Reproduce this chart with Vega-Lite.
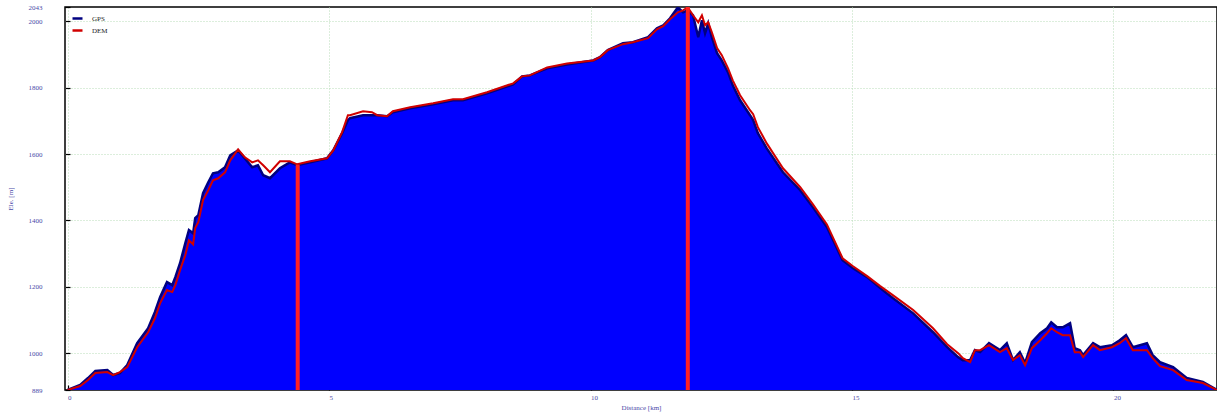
{
  "$schema": "https://vega.github.io/schema/vega-lite/v6.json",
  "width": 1152,
  "height": 383,
  "autosize": {"type": "none"},
  "padding": {"left": 65, "top": 7, "right": 0, "bottom": 29},
  "background": "white",
  "datasets": {
    "profile": [
      {"km": 0.0, "gps": 889, "dem": 889},
      {"km": 0.24, "gps": 904, "dem": 901},
      {"km": 0.39, "gps": 925, "dem": 919},
      {"km": 0.53, "gps": 946, "dem": 940},
      {"km": 0.76, "gps": 949, "dem": 943},
      {"km": 0.87, "gps": 934, "dem": 934},
      {"km": 1.0, "gps": 940, "dem": 943},
      {"km": 1.14, "gps": 964, "dem": 958},
      {"km": 1.33, "gps": 1030, "dem": 1018},
      {"km": 1.54, "gps": 1075, "dem": 1063},
      {"km": 1.67, "gps": 1124, "dem": 1105},
      {"km": 1.77, "gps": 1169, "dem": 1151},
      {"km": 1.9, "gps": 1214, "dem": 1190},
      {"km": 2.0, "gps": 1205, "dem": 1184},
      {"km": 2.06, "gps": 1229, "dem": 1205},
      {"km": 2.15, "gps": 1271, "dem": 1250},
      {"km": 2.25, "gps": 1331, "dem": 1295},
      {"km": 2.32, "gps": 1371, "dem": 1340},
      {"km": 2.4, "gps": 1361, "dem": 1328},
      {"km": 2.44, "gps": 1407, "dem": 1377},
      {"km": 2.5, "gps": 1416, "dem": 1395},
      {"km": 2.59, "gps": 1482, "dem": 1461},
      {"km": 2.69, "gps": 1515, "dem": 1491},
      {"km": 2.78, "gps": 1542, "dem": 1521},
      {"km": 2.88, "gps": 1545, "dem": 1527},
      {"km": 3.01, "gps": 1560, "dem": 1545},
      {"km": 3.11, "gps": 1596, "dem": 1581},
      {"km": 3.26, "gps": 1611, "dem": 1614},
      {"km": 3.39, "gps": 1587, "dem": 1590},
      {"km": 3.53, "gps": 1560, "dem": 1575},
      {"km": 3.64, "gps": 1566, "dem": 1581},
      {"km": 3.74, "gps": 1536, "dem": 1566},
      {"km": 3.87, "gps": 1527, "dem": 1545},
      {"km": 4.06, "gps": 1557, "dem": 1578},
      {"km": 4.25, "gps": 1575, "dem": 1578},
      {"km": 4.39, "gps": 1566, "dem": 1569},
      {"km": 4.64, "gps": 1575, "dem": 1578},
      {"km": 4.96, "gps": 1587, "dem": 1587},
      {"km": 5.08, "gps": 1611, "dem": 1611},
      {"km": 5.25, "gps": 1663, "dem": 1666},
      {"km": 5.36, "gps": 1702, "dem": 1717},
      {"km": 5.4, "gps": 1708, "dem": 1717},
      {"km": 5.65, "gps": 1717, "dem": 1729},
      {"km": 5.82, "gps": 1717, "dem": 1726},
      {"km": 5.92, "gps": 1717, "dem": 1717},
      {"km": 6.11, "gps": 1714, "dem": 1714},
      {"km": 6.22, "gps": 1726, "dem": 1729},
      {"km": 6.55, "gps": 1738, "dem": 1741},
      {"km": 6.99, "gps": 1750, "dem": 1753},
      {"km": 7.37, "gps": 1762, "dem": 1765},
      {"km": 7.56, "gps": 1762, "dem": 1765},
      {"km": 8.02, "gps": 1783, "dem": 1786},
      {"km": 8.52, "gps": 1810, "dem": 1813},
      {"km": 8.69, "gps": 1834, "dem": 1834},
      {"km": 8.84, "gps": 1837, "dem": 1837},
      {"km": 9.17, "gps": 1858, "dem": 1861},
      {"km": 9.55, "gps": 1870, "dem": 1873},
      {"km": 10.05, "gps": 1882, "dem": 1882},
      {"km": 10.18, "gps": 1892, "dem": 1892},
      {"km": 10.33, "gps": 1913, "dem": 1913},
      {"km": 10.62, "gps": 1934, "dem": 1931},
      {"km": 10.81, "gps": 1937, "dem": 1937},
      {"km": 11.1, "gps": 1952, "dem": 1949},
      {"km": 11.27, "gps": 1979, "dem": 1976},
      {"km": 11.39, "gps": 1988, "dem": 1985},
      {"km": 11.52, "gps": 2009, "dem": 2006},
      {"km": 11.67, "gps": 2042, "dem": 2027},
      {"km": 11.77, "gps": 2027, "dem": 2033},
      {"km": 11.86, "gps": 2033, "dem": 2042},
      {"km": 11.96, "gps": 2018, "dem": 2018},
      {"km": 12.06, "gps": 1952, "dem": 1997},
      {"km": 12.13, "gps": 2003, "dem": 2018},
      {"km": 12.19, "gps": 1964, "dem": 1988},
      {"km": 12.25, "gps": 1994, "dem": 1997},
      {"km": 12.32, "gps": 1952, "dem": 1967},
      {"km": 12.42, "gps": 1904, "dem": 1919},
      {"km": 12.51, "gps": 1882, "dem": 1898},
      {"km": 12.63, "gps": 1846, "dem": 1858},
      {"km": 12.72, "gps": 1807, "dem": 1822},
      {"km": 12.86, "gps": 1762, "dem": 1777},
      {"km": 13.05, "gps": 1717, "dem": 1732},
      {"km": 13.11, "gps": 1702, "dem": 1720},
      {"km": 13.2, "gps": 1663, "dem": 1681},
      {"km": 13.37, "gps": 1617, "dem": 1632},
      {"km": 13.68, "gps": 1545, "dem": 1557},
      {"km": 14.01, "gps": 1491, "dem": 1500},
      {"km": 14.25, "gps": 1440, "dem": 1449},
      {"km": 14.52, "gps": 1380, "dem": 1388},
      {"km": 14.82, "gps": 1280, "dem": 1286},
      {"km": 15.02, "gps": 1256, "dem": 1262},
      {"km": 15.29, "gps": 1229, "dem": 1232},
      {"km": 15.54, "gps": 1196, "dem": 1202},
      {"km": 15.78, "gps": 1166, "dem": 1175},
      {"km": 16.17, "gps": 1120, "dem": 1130},
      {"km": 16.55, "gps": 1063, "dem": 1075},
      {"km": 16.82, "gps": 1018, "dem": 1027},
      {"km": 17.03, "gps": 988, "dem": 1000},
      {"km": 17.12, "gps": 979, "dem": 985},
      {"km": 17.26, "gps": 979, "dem": 973},
      {"km": 17.35, "gps": 1009, "dem": 1009},
      {"km": 17.45, "gps": 1003, "dem": 1009},
      {"km": 17.62, "gps": 1030, "dem": 1024},
      {"km": 17.83, "gps": 1009, "dem": 1003},
      {"km": 17.96, "gps": 1030, "dem": 1015},
      {"km": 18.08, "gps": 979, "dem": 979},
      {"km": 18.21, "gps": 1003, "dem": 994},
      {"km": 18.31, "gps": 970, "dem": 964},
      {"km": 18.44, "gps": 1033, "dem": 1015},
      {"km": 18.6, "gps": 1060, "dem": 1039},
      {"km": 18.73, "gps": 1075, "dem": 1060},
      {"km": 18.81, "gps": 1093, "dem": 1075},
      {"km": 18.92, "gps": 1078, "dem": 1063},
      {"km": 19.03, "gps": 1078, "dem": 1054},
      {"km": 19.17, "gps": 1090, "dem": 1054},
      {"km": 19.26, "gps": 1015, "dem": 1003},
      {"km": 19.36, "gps": 1009, "dem": 1003},
      {"km": 19.42, "gps": 994, "dem": 988},
      {"km": 19.61, "gps": 1030, "dem": 1024},
      {"km": 19.74, "gps": 1018, "dem": 1009},
      {"km": 19.97, "gps": 1024, "dem": 1018},
      {"km": 20.12, "gps": 1039, "dem": 1030},
      {"km": 20.24, "gps": 1054, "dem": 1045},
      {"km": 20.37, "gps": 1018, "dem": 1009},
      {"km": 20.64, "gps": 1030, "dem": 1009},
      {"km": 20.75, "gps": 994, "dem": 985},
      {"km": 20.89, "gps": 973, "dem": 961},
      {"km": 21.14, "gps": 958, "dem": 949},
      {"km": 21.4, "gps": 925, "dem": 919},
      {"km": 21.71, "gps": 913, "dem": 910},
      {"km": 21.98, "gps": 889, "dem": 889}
    ],
    "marks": [
      {"km": 4.4, "lo": 889, "hi": 1568},
      {"km": 11.86, "lo": 889, "hi": 2043}
    ]
  },
  "config": {
    "view": {"stroke": "black", "strokeWidth": 1.5},
    "font": "Liberation Serif",
    "axis": {
      "labelFont": "Liberation Serif",
      "titleFont": "Liberation Serif",
      "labelFontSize": 7,
      "titleFontSize": 7,
      "labelColor": "#4a4aa8",
      "titleColor": "#4a4aa8",
      "titleFontWeight": "normal",
      "domain": false,
      "tickColor": "black",
      "tickWidth": 1.2,
      "tickSize": -5,
      "gridColor": "#b8dcb8",
      "gridDash": [1, 2],
      "gridWidth": 1
    },
    "legend": {
      "labelFont": "Liberation Serif",
      "labelFontSize": 7,
      "labelColor": "#222222"
    }
  },
  "layer": [
    {
      "data": {"name": "profile"},
      "mark": {"type": "area", "color": "#0000ff", "clip": true, "interpolate": "linear"},
      "encoding": {
        "x": {
          "field": "km", "type": "quantitative",
          "scale": {"domain": [-0.05, 21.98], "nice": false, "zero": false},
          "axis": {
            "values": [0, 5, 10, 15, 20],
            "format": "d",
            "title": "Distance [km]",
            "labelAlign": "left",
            "labelPadding": 8,
            "titlePadding": 3
          }
        },
        "y": {
          "field": "gps", "type": "quantitative",
          "scale": {"domain": [889, 2043], "nice": false, "zero": false},
          "axis": {
            "values": [889, 1000, 1200, 1400, 1600, 1800, 2000, 2043],
            "format": "d",
            "title": "Ele. [m]",
            "labelPadding": 28,
            "titlePadding": 15,
            "gridOpacity": {"condition": {"test": "datum.value == 889 || datum.value == 2043", "value": 0}, "value": 1}
          }
        },
        "y2": {"datum": 889}
      }
    },
    {
      "data": {"name": "profile"},
      "mark": {"type": "line", "strokeWidth": 2.5, "clip": true},
      "encoding": {
        "x": {"field": "km", "type": "quantitative"},
        "y": {"field": "gps", "type": "quantitative"},
        "color": {
          "datum": "GPS",
          "scale": {"domain": ["GPS", "DEM"], "range": ["#000080", "#d00000"]},
          "legend": {
            "title": null,
            "orient": "none",
            "legendX": 6,
            "legendY": 5,
            "symbolType": "stroke",
            "symbolStrokeWidth": 2.5,
            "symbolSize": 100,
            "rowPadding": 0,
            "labelOffset": 8
          }
        }
      }
    },
    {
      "data": {"name": "profile"},
      "mark": {"type": "line", "strokeWidth": 2, "clip": true},
      "encoding": {
        "x": {"field": "km", "type": "quantitative"},
        "y": {"field": "dem", "type": "quantitative"},
        "color": {"datum": "DEM"}
      }
    },
    {
      "data": {"name": "marks"},
      "mark": {"type": "rule", "color": "#ff2020", "strokeWidth": 4, "clip": true},
      "encoding": {
        "x": {"field": "km", "type": "quantitative"},
        "y": {"field": "lo", "type": "quantitative"},
        "y2": {"field": "hi"}
      }
    }
  ]
}
